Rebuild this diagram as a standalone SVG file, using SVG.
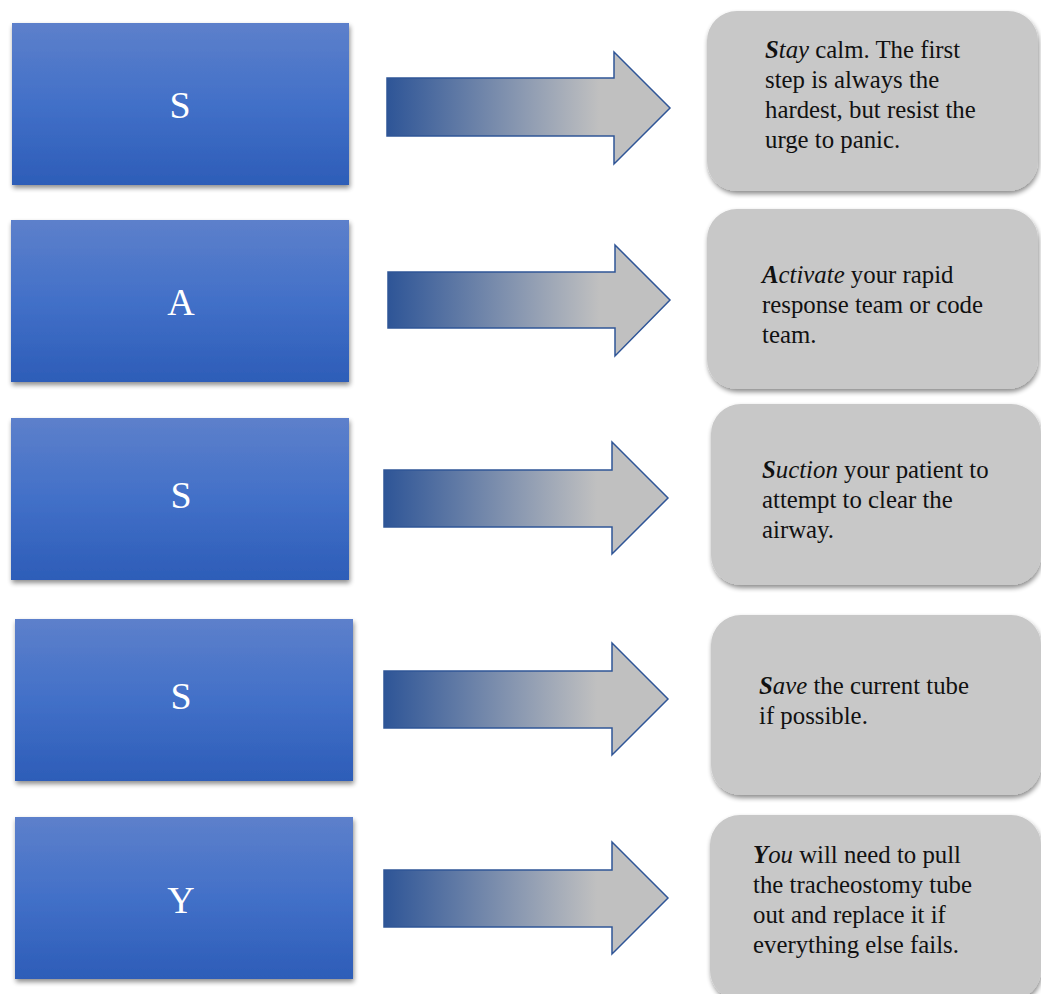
<svg xmlns="http://www.w3.org/2000/svg" width="1041" height="994" viewBox="0 0 1041 994">
<defs>
<linearGradient id="blue" x1="0" y1="0" x2="0" y2="1">
<stop offset="0" stop-color="#5d80cb"/>
<stop offset="0.5" stop-color="#4270c8"/>
<stop offset="1" stop-color="#2d5db8"/>
</linearGradient>
<linearGradient id="arr" x1="0" y1="0" x2="1" y2="0">
<stop offset="0" stop-color="#2e5597"/>
<stop offset="0.75" stop-color="#c0c0c0"/>
<stop offset="1" stop-color="#c0c0c0"/>
</linearGradient>
<filter id="sh" x="-10%" y="-10%" width="120%" height="130%">
<feGaussianBlur in="SourceAlpha" stdDeviation="2.5"/>
<feOffset dx="1" dy="3" result="b"/>
<feComponentTransfer><feFuncA type="linear" slope="0.45"/></feComponentTransfer>
<feMerge><feMergeNode/><feMergeNode in="SourceGraphic"/></feMerge>
</filter>
</defs>
<style>
.box{fill:url(#blue);}
.card{fill:#c8c8c8;}
.arrow{fill:url(#arr);stroke:#2f5597;stroke-width:1.5;}
.letter{font-family:"Liberation Serif",serif;font-size:38px;fill:#ffffff;text-anchor:middle;}
.txt{font-family:"Liberation Serif",serif;font-size:24.8px;fill:#111111;}
.em{font-weight:bold;font-style:italic;}
.it{font-style:italic;}
</style>
<rect width="1041" height="994" fill="#ffffff"/>
<g id="node-s1"><rect class="box" x="12" y="23" width="337" height="162" filter="url(#sh)"/><text class="letter" x="180" y="118">S</text></g>
<g id="node-a"><rect class="box" x="11" y="220" width="338" height="162" filter="url(#sh)"/><text class="letter" x="181" y="315">A</text></g>
<g id="node-s2"><rect class="box" x="11" y="418" width="338" height="162" filter="url(#sh)"/><text class="letter" x="181" y="508">S</text></g>
<g id="node-s3"><rect class="box" x="15" y="619" width="338" height="162" filter="url(#sh)"/><text class="letter" x="181" y="709">S</text></g>
<g id="node-y"><rect class="box" x="15" y="817" width="338" height="162" filter="url(#sh)"/><text class="letter" x="181" y="913">Y</text></g>
<g id="connectors">
<path class="arrow" d="M387,78 H614 V52 L670,108 L614,164 V136 H387 Z"/>
<path class="arrow" d="M388,272 H615 V245 L670,300 L615,356 V328 H388 Z"/>
<path class="arrow" d="M384,470 H612 V442 L668,498 L612,554 V527 H384 Z"/>
<path class="arrow" d="M384,671 H612 V643 L668,699 L612,755 V728 H384 Z"/>
<path class="arrow" d="M384,870 H612 V842 L668,898 L612,954 V927 H384 Z"/>
</g>
<g id="card-1"><rect class="card" x="707" y="11" width="331" height="180" rx="30" filter="url(#sh)"/>
<text class="txt"><tspan x="765" y="58"><tspan class="em">S</tspan><tspan class="it">tay</tspan> calm. The first</tspan><tspan x="765" y="88">step is always the</tspan><tspan x="765" y="118">hardest, but resist the</tspan><tspan x="765" y="148">urge to panic.</tspan></text></g>
<g id="card-2"><rect class="card" x="707" y="209" width="331" height="180" rx="30" filter="url(#sh)"/>
<text class="txt"><tspan x="762" y="283"><tspan class="em">A</tspan><tspan class="it">ctivate</tspan> your rapid</tspan><tspan x="762" y="313">response team or code</tspan><tspan x="762" y="343">team.</tspan></text></g>
<g id="card-3"><rect class="card" x="711" y="404" width="330" height="181" rx="30" filter="url(#sh)"/>
<text class="txt"><tspan x="762" y="478"><tspan class="em">S</tspan><tspan class="it">uction</tspan> your patient to</tspan><tspan x="762" y="508">attempt to clear the</tspan><tspan x="762" y="538">airway.</tspan></text></g>
<g id="card-4"><rect class="card" x="711" y="615" width="330" height="180" rx="30" filter="url(#sh)"/>
<text class="txt"><tspan x="759" y="694"><tspan class="em">S</tspan><tspan class="it">ave</tspan> the current tube</tspan><tspan x="759" y="724">if possible.</tspan></text></g>
<g id="card-5"><rect class="card" x="710" y="815" width="331" height="185" rx="30" filter="url(#sh)"/>
<text class="txt"><tspan x="753" y="863"><tspan class="em">Y</tspan><tspan class="it">ou</tspan> will need to pull</tspan><tspan x="753" y="893">the tracheostomy tube</tspan><tspan x="753" y="923">out and replace it if</tspan><tspan x="753" y="953">everything else fails.</tspan></text></g>
</svg>
